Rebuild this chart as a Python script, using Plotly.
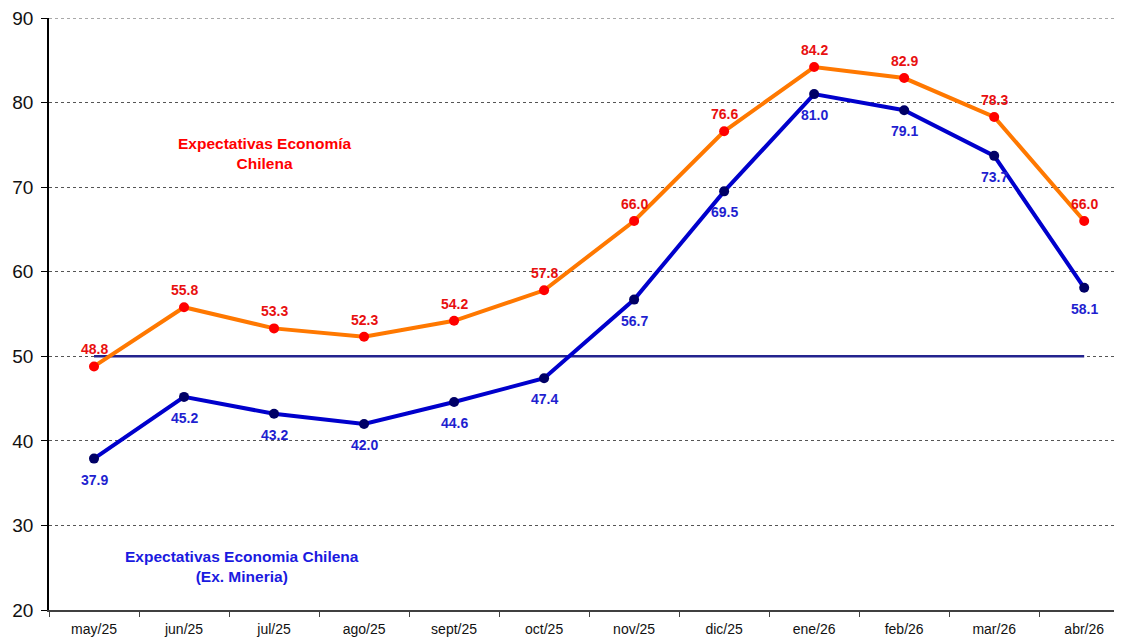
import plotly.graph_objects as go

months = ["may/25", "jun/25", "jul/25", "ago/25", "sept/25", "oct/25",
          "nov/25", "dic/25", "ene/26", "feb/26", "mar/26", "abr/26"]
economia = [48.8, 55.8, 53.3, 52.3, 54.2, 57.8, 66.0, 76.6, 84.2, 82.9, 78.3, 66.0]
ex_mineria = [37.9, 45.2, 43.2, 42.0, 44.6, 47.4, 56.7, 69.5, 81.0, 79.1, 73.7, 58.1]
neutral = [50] * len(months)
y_ticks = [20, 30, 40, 50, 60, 70, 80, 90]

FONT = "Arial, Liberation Sans"

fig = go.Figure()
fig.add_trace(go.Scatter(x=months, y=neutral, mode="lines",
                         line=dict(color="#23238E", width=2.5), hoverinfo="skip"))
fig.add_trace(go.Scatter(
    x=months, y=ex_mineria, mode="lines+markers",
    line=dict(color="#0000CC", width=4),
    marker=dict(color="#000066", size=10),
))
fig.add_trace(go.Scatter(
    x=months, y=economia, mode="lines+markers",
    line=dict(color="#FF7800", width=4),
    marker=dict(color="#FF0000", size=10),
))

for m, v in zip(months, ex_mineria):
    fig.add_annotation(x=m, y=v, text=f"{v:.1f}", showarrow=False, yshift=-21,
                       font=dict(family=FONT, size=14, color="#1F1FD0", weight="bold"))
for m, v in zip(months, economia):
    fig.add_annotation(x=m, y=v, text=f"{v:.1f}", showarrow=False, yshift=17,
                       font=dict(family=FONT, size=14, color="#E81010", weight="bold"))

fig.add_annotation(x=0.201, xref="paper", xanchor="center", y=74.0, yref="y",
                   text="Expectativas Economía<br>Chilena", showarrow=False,
                   font=dict(family=FONT, size=15.5, color="#FF0000", weight="bold"))
fig.add_annotation(x=0.18, xref="paper", xanchor="center", y=25.1, yref="y",
                   text="Expectativas Economia Chilena<br>(Ex. Mineria)", showarrow=False,
                   font=dict(family=FONT, size=15.5, color="#1A1AE0", weight="bold"))

# top gridline (at the axis maximum)
fig.add_shape(type="line", xref="paper", x0=0, x1=1, yref="y",
              y0=max(y_ticks), y1=max(y_ticks),
              line=dict(color="#555555", width=1, dash="dot"), layer="below")

fig.update_layout(
    width=1114, height=633,
    margin=dict(l=41, r=0, t=10, b=31),
    paper_bgcolor="white", plot_bgcolor="white",
    showlegend=False,
    font=dict(family=FONT, color="black"),
)
fig.update_xaxes(
    type="category", range=[-0.5, 11.42], automargin=False,
    showline=True, linecolor="#404040", linewidth=1.5,
    ticks="outside", tickson="boundaries", ticklen=5, tickcolor="#404040",
    ticklabelstandoff=5, ticklabeloverflow="allow",
    showgrid=False, tickfont=dict(size=14, color="#111111"),
)
fig.update_yaxes(
    range=[20, 90], tickvals=y_ticks, automargin=False,
    showline=True, linecolor="black", linewidth=1.5,
    ticks="outside", ticklen=6, tickcolor="black",
    ticklabelstandoff=4, ticklabeloverflow="allow",
    showgrid=True, gridcolor="#555555", griddash="dot", gridwidth=1,
    tickfont=dict(size=19, color="#111111"), zeroline=False,
)
fig.write_html("out.html")
